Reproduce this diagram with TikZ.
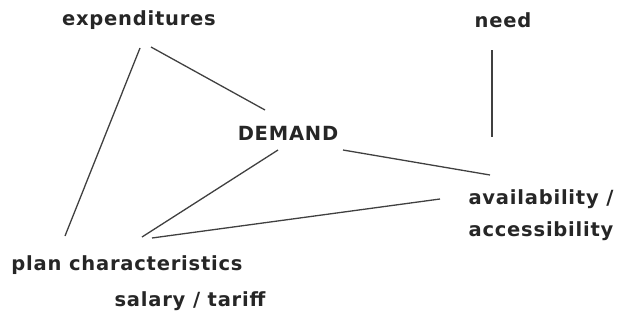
\documentclass[tikz,border=0pt]{standalone}
\usepackage{fontspec}
\setmainfont{DejaVu Sans}[LetterSpace=4]
\begin{document}
\begin{tikzpicture}[x=1pt,y=-1pt,
  lbl/.style={inner sep=0pt,font=\bfseries\fontsize{19.5}{32}\selectfont,text=black!85,align=center},
  link/.style={draw=black!75,line width=1.3pt}]
\useasboundingbox (0,0) rectangle (620,324);
\node[lbl] (exp) at (139,20) {expenditures};
\node[lbl] (need) at (503,20) {need};
\node[lbl] (dem) at (288,133) {DEMAND};
\node[lbl] (av) at (541,215) {availability /\\accessibility};
\node[lbl] (plan) at (127,265) {plan characteristics};
\node[lbl] (sal) at (190,301) {salary / tariff};
\draw[link] ([shift={(12,27)}]exp.center) -- ([shift={(-23,-23)}]dem.center);
\draw[link] ([shift={(1,28)}]exp.center) -- ([shift={(-62,-29)}]plan.center);
\draw[link] ([shift={(-11,30)}]need.center) -- ([shift={(-11,117)}]need.center);
\draw[link] ([shift={(55,17)}]dem.center) -- ([shift={(-51,-40)}]av.center);
\draw[link] ([shift={(-10,17)}]dem.center) -- ([shift={(15,-28)}]plan.center);
\draw[link] ([shift={(25,-27)}]plan.center) -- ([shift={(-101,-16)}]av.center);
\end{tikzpicture}
\end{document}
